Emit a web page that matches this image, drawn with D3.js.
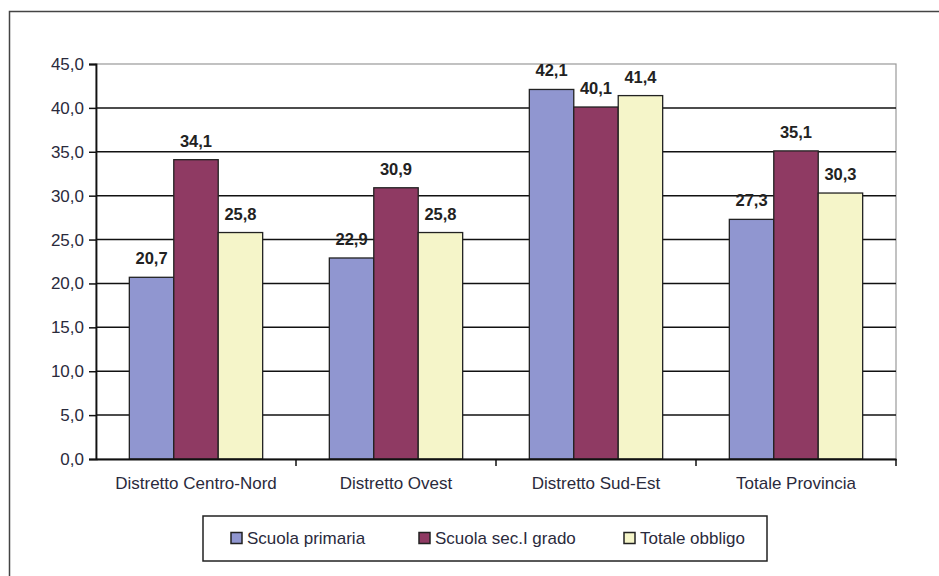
<!DOCTYPE html>
<html>
<head>
<meta charset="utf-8">
<script src="https://cdn.jsdelivr.net/npm/d3@7"></script>
<style>
  body { margin: 0; background: #fff; }
  text { font-family: "Liberation Sans", Arial, sans-serif; }
</style>
</head>
<body>
<script>
// Chart data
const categories = ["Distretto Centro-Nord", "Distretto Ovest", "Distretto Sud-Est", "Totale Provincia"];
const seriesNames = ["Scuola primaria", "Scuola sec.I grado", "Totale obbligo"];
const primaria = [20.7, 22.9, 42.1, 27.3];
const secondaria = [34.1, 30.9, 40.1, 35.1];
const totale = [25.8, 25.8, 41.4, 30.3];
const yTicks = [0, 5, 10, 15, 20, 25, 30, 35, 40, 45];

const colors = ["#9096d0", "#8f3a63", "#f5f5c9"];
const series = [primaria, secondaria, totale];

const width = 939, height = 576;
const margin = {left: 96, right: 43, top: 64, bottom: 117};
const textColor = "#2a2a3c";

const svg = d3.select("body").append("svg")
    .attr("width", width)
    .attr("height", height);

// Outer frame
svg.append("rect")
    .attr("x", 9.5).attr("y", 11.5)
    .attr("width", 940).attr("height", 580)
    .attr("fill", "none")
    .attr("stroke", "#444")
    .attr("stroke-width", 1.5);

const x = d3.scaleBand()
    .domain(categories)
    .range([margin.left, width - margin.right]);

const y = d3.scaleLinear()
    .domain([0, 45])
    .range([height - margin.bottom, margin.top]);

// Gap width 150% like Excel: 3 bars + 1.5 bar widths per band
const barW = x.bandwidth() / 4.5;
const xs = d3.scaleBand()
    .domain(seriesNames)
    .range([0.75 * barW, 3.75 * barW]);

// Plot area border (grey)
svg.append("rect")
    .attr("x", margin.left).attr("y", margin.top)
    .attr("width", width - margin.right - margin.left)
    .attr("height", y(0) - margin.top)
    .attr("fill", "none")
    .attr("stroke", "#999")
    .attr("stroke-width", 1.2);

// Gridlines
svg.append("g")
    .selectAll("line")
    .data(yTicks.filter(d => d > 0 && d < 45))
    .join("line")
    .attr("x1", margin.left).attr("x2", width - margin.right)
    .attr("y1", d => y(d)).attr("y2", d => y(d))
    .attr("stroke", "#111")
    .attr("stroke-width", 1.5);

// Bars
const groups = svg.append("g")
    .selectAll("g")
    .data(categories)
    .join("g")
    .attr("transform", d => `translate(${x(d)},0)`);

groups.selectAll("rect")
    .data((d, i) => series.map((s, j) => ({name: seriesNames[j], value: s[i], j})))
    .join("rect")
    .attr("x", d => xs(d.name))
    .attr("y", d => y(d.value))
    .attr("width", xs.bandwidth())
    .attr("height", d => y(0) - y(d.value))
    .attr("fill", d => colors[d.j])
    .attr("stroke", "#222")
    .attr("stroke-width", 1.3);

// Value labels
groups.selectAll("text")
    .data((d, i) => series.map((s, j) => ({name: seriesNames[j], value: s[i]})))
    .join("text")
    .attr("x", d => xs(d.name) + xs.bandwidth() / 2)
    .attr("y", d => y(d.value) - 13)
    .attr("text-anchor", "middle")
    .attr("font-size", 16.5)
    .attr("font-weight", "bold")
    .attr("fill", "#222")
    .text(d => d.value.toFixed(1).replace(".", ","));

// Y axis
const yAxis = svg.append("g")
    .attr("transform", `translate(${margin.left},0)`)
    .call(d3.axisLeft(y).tickValues(yTicks).tickSize(7).tickPadding(5)
        .tickFormat(d => d.toFixed(1).replace(".", ",")));
yAxis.select(".domain").attr("stroke", "#111").attr("stroke-width", 1.8);
yAxis.selectAll(".tick line").attr("stroke", "#111").attr("stroke-width", 1.5);
yAxis.selectAll(".tick text")
    .attr("font-size", 17)
    .attr("fill", textColor)
    .attr("font-family", "Liberation Sans, Arial, sans-serif");

// X axis
const xAxis = svg.append("g")
    .attr("transform", `translate(0,${y(0)})`)
    .call(d3.axisBottom(x).tickSize(0).tickPadding(18));
xAxis.select(".domain").attr("stroke", "#111").attr("stroke-width", 1.8);
xAxis.selectAll(".tick text")
    .attr("font-size", 17)
    .attr("fill", textColor)
    .attr("font-family", "Liberation Sans, Arial, sans-serif");

// Category separator ticks
svg.append("g")
    .selectAll("line")
    .data(categories.slice(1).concat(["end"]))
    .join("line")
    .attr("x1", d => d === "end" ? width - margin.right : x(d))
    .attr("x2", d => d === "end" ? width - margin.right : x(d))
    .attr("y1", y(0)).attr("y2", y(0) + 7)
    .attr("stroke", "#111")
    .attr("stroke-width", 1.5);

// Legend
const legend = svg.append("g");
legend.append("rect")
    .attr("x", 203).attr("y", 516)
    .attr("width", 564).attr("height", 45)
    .attr("fill", "#fff")
    .attr("stroke", "#222")
    .attr("stroke-width", 1.5);

const legendX = [231, 419, 624];
const item = legend.selectAll("g")
    .data(seriesNames)
    .join("g")
    .attr("transform", (d, i) => `translate(${legendX[i]},538)`);

item.append("rect")
    .attr("x", 0).attr("y", -5.5)
    .attr("width", 11).attr("height", 11)
    .attr("fill", (d, i) => colors[i])
    .attr("stroke", "#222")
    .attr("stroke-width", 1.5);

item.append("text")
    .attr("x", 16)
    .attr("dy", "0.36em")
    .attr("font-size", 17)
    .attr("fill", textColor)
    .text(d => d);
</script>
</body>
</html>
